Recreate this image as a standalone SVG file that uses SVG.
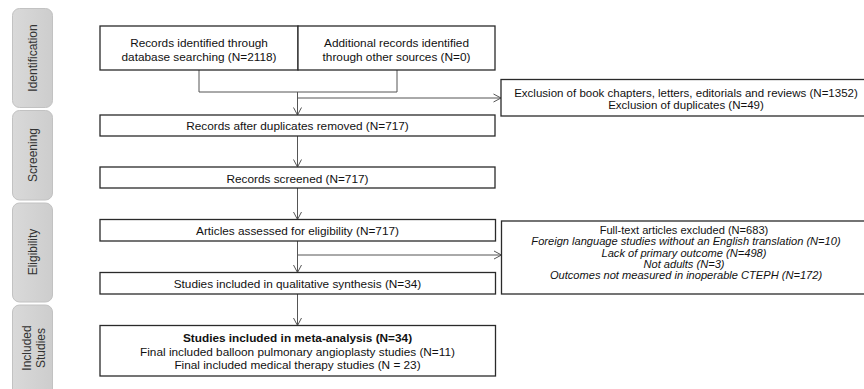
<svg xmlns="http://www.w3.org/2000/svg" width="864" height="389" viewBox="0 0 864 389">
<defs>
<linearGradient id="bar" x1="0" y1="0" x2="1" y2="0">
<stop offset="0" stop-color="#d9d9d9"/>
<stop offset="1" stop-color="#cdcdcd"/>
</linearGradient>
<marker id="ah" markerUnits="userSpaceOnUse" markerWidth="12" markerHeight="12" viewBox="-10 -6 12 12" refX="0" refY="0" orient="auto">
<path d="M-7.5,-4 L0,0 L-7.5,4" fill="none" stroke="#555" stroke-width="1"/>
</marker>
</defs>
<style>
.bar{fill:url(#bar);stroke:#c2c2c2;stroke-width:1}
.bt{font-family:"Liberation Sans",Arial,sans-serif;font-size:12px;fill:#333;text-anchor:middle}
.box{fill:#fff;stroke:#2a2a2a;stroke-width:1.3}
.t{font-family:"Liberation Sans",Arial,sans-serif;font-size:11.8px;fill:#111;text-anchor:middle}
.s{font-size:11.1px}
.m{font-size:11.5px}
.i{font-style:italic}
.b{font-weight:bold}
.c{fill:none;stroke:#555;stroke-width:1}
</style>
<rect width="864" height="389" fill="#fff"/>
<g id="stage-identification">
<rect class="bar" x="12.5" y="8.5" width="40" height="99" rx="7"/>
<text class="bt" transform="translate(37,58) rotate(-90)">Identification</text>
</g>
<g id="stage-screening">
<rect class="bar" x="12.5" y="110.5" width="40" height="89.5" rx="7"/>
<text class="bt" transform="translate(37,155) rotate(-90)">Screening</text>
</g>
<g id="stage-eligibility">
<rect class="bar" x="12.5" y="203" width="40" height="99" rx="7"/>
<text class="bt" transform="translate(37,252) rotate(-90)">Eligibility</text>
</g>
<g id="stage-included">
<rect class="bar" x="12.5" y="305" width="40" height="100" rx="7"/>
<text class="bt" transform="translate(31,348) rotate(-90)">Included</text>
<text class="bt" transform="translate(44.5,348) rotate(-90)">Studies</text>
</g>
<g id="connectors">
<path class="c" d="M199,70 V92 H397 V70"/>
<path class="c" d="M297.5,92 V115" marker-end="url(#ah)"/>
<path class="c" d="M297.5,98 H501" marker-end="url(#ah)"/>
<path class="c" d="M297.5,136 V167" marker-end="url(#ah)"/>
<path class="c" d="M297.5,188 V219.5" marker-end="url(#ah)"/>
<path class="c" d="M297.5,241 V272.5" marker-end="url(#ah)"/>
<path class="c" d="M297.5,255 H501.5" marker-end="url(#ah)"/>
<path class="c" d="M297.5,294 V325.5" marker-end="url(#ah)"/>
</g>
<g id="records-database">
<rect class="box" x="100" y="26" width="198" height="44"/>
<text class="t" x="199" y="46.5">Records identified through</text>
<text class="t" x="199" y="60.8">database searching (N=2118)</text>
</g>
<g id="records-other">
<rect class="box" x="298" y="26" width="197" height="44"/>
<text class="t" x="396.5" y="46.5">Additional records identified</text>
<text class="t" x="396.5" y="60.8">through other sources (N=0)</text>
</g>
<g id="exclusion-1">
<rect class="box" x="501" y="79.5" width="372" height="36.5"/>
<text class="t m" x="686" y="96.5">Exclusion of book chapters, letters, editorials and reviews (N=1352)</text>
<text class="t m" x="686" y="109.2">Exclusion of duplicates (N=49)</text>
</g>
<g id="records-after-duplicates">
<rect class="box" x="100" y="115" width="395" height="21"/>
<text class="t" x="297.5" y="130">Records after duplicates removed (N=717)</text>
</g>
<g id="records-screened">
<rect class="box" x="100" y="167" width="395" height="21"/>
<text class="t" x="297.5" y="182.5">Records screened (N=717)</text>
</g>
<g id="articles-assessed">
<rect class="box" x="100" y="219.5" width="395.5" height="21.5"/>
<text class="t" x="297.5" y="235">Articles assessed for eligibility (N=717)</text>
</g>
<g id="qualitative">
<rect class="box" x="100" y="272.5" width="395.5" height="21.5"/>
<text class="t" x="297.5" y="288">Studies included in qualitative synthesis (N=34)</text>
</g>
<g id="meta-analysis">
<rect class="box" x="100" y="325.5" width="395.5" height="50.5"/>
<text class="t b" x="297.5" y="341.5">Studies included in meta-analysis (N=34)</text>
<text class="t" x="297.5" y="356">Final included balloon pulmonary angioplasty studies (N=11)</text>
<text class="t" x="297.5" y="368.5">Final included medical therapy studies (N = 23)</text>
</g>
<g id="exclusion-2">
<rect class="box" x="501.5" y="221" width="372" height="73"/>
<text class="t s" x="684" y="233.8">Full-text articles excluded (N=683)</text>
<text class="t s i" x="686" y="245.2">Foreign language studies without an English translation (N=10)</text>
<text class="t s i" x="684" y="256.6">Lack of primary outcome (N=498)</text>
<text class="t s i" x="684" y="268">Not adults (N=3)</text>
<text class="t s i" x="686" y="279.4">Outcomes not measured in inoperable CTEPH (N=172)</text>
</g>
</svg>
